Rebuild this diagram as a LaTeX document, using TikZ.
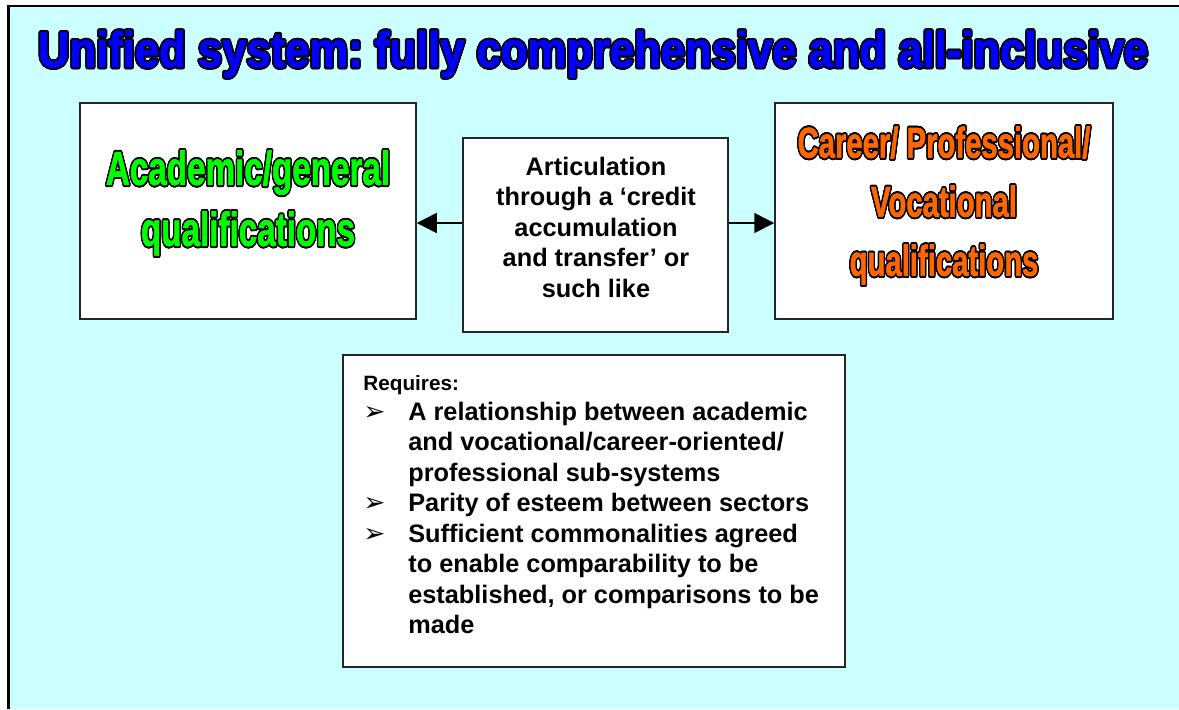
\documentclass[tikz,border=0pt]{standalone}
\usepackage{fontspec}
\setmainfont{Liberation Sans}
\newfontfamily\bulletfont{DejaVu Sans}
\newfontfamily\wordartfont[FakeBold=1.6]{Liberation Sans}
\usepackage{graphicx}
\usepackage{contour}
\contourlength{1.1pt}
\usetikzlibrary{arrows.meta}

\definecolor{slidebg}{HTML}{CCFFFF}
\definecolor{titleblue}{HTML}{0000FF}
\definecolor{acadgreen}{HTML}{00FF00}
\definecolor{careerorange}{HTML}{FF6600}

% outlined, squeezed heading text
\newcommand{\outl}[3]{\scalebox{#1}[1]{\color{#2}\contour{black}{#3}}}
\newcommand{\pointer}{{\bulletfont\mdseries\fontsize{15}{12}\selectfont ➢}}

\begin{document}
\frenchspacing
\begin{tikzpicture}[x=0.2mm, y=-0.2mm, >={Triangle[length=4mm,width=4mm]},
  box/.style={draw=black!85, line width=0.3mm, fill=white, inner sep=0pt},
  plain/.style={inner sep=0pt, align=center, font=\bfseries\fontsize{14.4}{17.35}\selectfont}]
%%%
\useasboundingbox (0,0) rectangle (1179,709);
\fill[white] (0,0) rectangle (1179,709);

% slide background
\fill[slidebg] (8.5,6) rectangle (1179,709);
\draw[line width=0.5mm] (8.5,709) -- (8.5,6) -- (1179,6);

% heading
\node[inner sep=0pt, anchor=base] (title) at (593,67)
  {\resizebox{222mm}{\height}{\wordartfont\bfseries\fontsize{28.5}{30}\selectfont\color{titleblue}\contour{black}{Unified system: fully comprehensive and all-inclusive}}};

% the three boxes
\node[box, minimum width=67.2mm, minimum height=43.2mm] (acad) at (248,211) {};
\node[box, minimum width=67.6mm, minimum height=43.2mm] (career) at (944,211) {};
\node[box, minimum width=53mm, minimum height=38.8mm] (artic) at (595.5,235) {};

\node[plain, font=\wordartfont\bfseries\fontsize{27}{34.7}\selectfont] (acadtext) at (248,204)
  {\outl{0.7}{acadgreen}{Academic/general}\\ \outl{0.7}{acadgreen}{qualifications}};
\node[plain, font=\wordartfont\bfseries\fontsize{24.5}{33.6}\selectfont] (careertext) at (944,206.5)
  {\outl{0.68}{careerorange}{Career/ Professional/}\\ \outl{0.68}{careerorange}{Vocational}\\ \outl{0.68}{careerorange}{qualifications}};
\node[plain] (artictext) at (596,227)
  {Articulation\\ through a ‘credit\\ accumulation\\ and transfer’ or\\ such like};

% arrows out of the middle box
\coordinate (link) at (596,223);
\draw[->, line width=0.3mm] (artic.west |- link) -- (acad.east |- link);
\draw[->, line width=0.3mm] (artic.east |- link) -- (career.west |- link);

% requirements
\node[box, minimum width=100.4mm, minimum height=62.4mm] (needs) at (594,511) {};
\node[plain, align=left, anchor=base west] (needlist) at (363,390)
  {\begin{tabular}[t]{@{}p{9mm}@{}l@{}}
   \multicolumn{2}{@{}l@{}}{\fontsize{11.8}{14}\selectfont Requires:}\\
   \pointer & A relationship between academic\\
    & and vocational/career-oriented/\\
    & professional sub-systems\\
   \pointer & Parity of esteem between sectors\\
   \pointer & Sufficient commonalities agreed\\
    & to enable comparability to be\\
    & established, or comparisons to be\\
    & made
   \end{tabular}};
%%%
\end{tikzpicture}
\end{document}
